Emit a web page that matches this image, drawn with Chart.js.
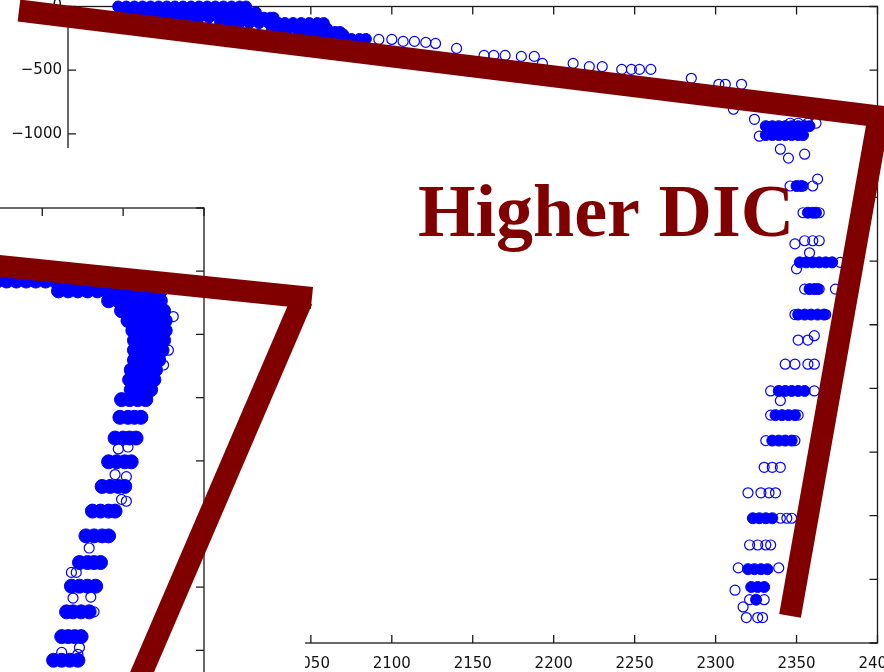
<!DOCTYPE html>
<html lang="en">
<head>
<meta charset="UTF-8">
<title>DIC profiles</title>
<script src="https://cdn.jsdelivr.net/npm/chart.js"></script>
<style>
  html, body { margin: 0; padding: 0; background: #fff; overflow: hidden; }
  #wrap { position: relative; width: 884px; height: 672px; overflow: hidden; background: #fff; }
  canvas { position: absolute; }
  #mainChart { left: 0; top: 0; }
  #insetChart { left: -370px; top: 148px; background: #fff; }
  #markChart { left: 0; top: 0; pointer-events: none; }
</style>
</head>
<body>
<div id="wrap">
  <canvas id="mainChart" width="884" height="672"></canvas>
  <canvas id="insetChart" width="675" height="700"></canvas>
  <canvas id="markChart" width="884" height="672"></canvas>
</div>
<script>
// main profile: axis ranges
const mainDicRange = [1900, 2400];
const mainDepthRange = [-5000, 0];
const dicStep = 50;
const depthStep = 500;

// main profile: dense sample clusters (depth level -> DIC values)
const mainCoreDepth = [0, -45, -88, -130, -172, -200, -219, -255, -940, -1010, -1410, -1620, -2010, -2220, -2420, -3020, -3210, -3410, -4020, -4420, -4560, -4660];
const mainCoreDic = [
  [1931, 1936, 1941, 1946, 1951, 1956, 1961, 1966, 1971, 1976, 1981, 1986, 1991, 1996, 2001, 2006, 2010],
  [1933, 1939, 1945, 1951, 1957, 1963, 1969, 1975, 1981, 1987, 1993, 1999, 2005, 2011, 2016],
  [1951, 1957, 1963, 1969, 1975, 1981, 1987, 1993, 1999, 2005, 2011, 2017, 2021, 2025, 2027],
  [1994, 2000, 2006, 2012, 2018, 2024, 2030, 2034, 2039, 2044, 2049, 2054, 2058],
  [2026, 2031, 2036, 2041, 2046, 2051, 2056, 2060],
  [2065, 2068],
  [2043, 2048, 2053, 2058, 2063, 2068, 2070],
  [2075, 2080, 2084],
  [2331, 2335, 2339, 2343, 2347, 2351, 2355, 2358],
  [2331, 2335, 2339, 2343, 2347, 2351, 2354],
  [2350, 2353],
  [2357, 2360, 2362],
  [2352, 2356, 2360, 2364, 2368, 2372],
  [2358, 2361, 2363],
  [2351, 2355, 2359, 2363, 2367],
  [2339, 2343, 2347, 2351, 2355],
  [2337, 2341, 2345, 2349],
  [2335, 2339, 2343, 2347],
  [2323, 2327, 2331, 2335],
  [2320, 2324, 2328, 2332],
  [2322, 2326, 2330],
  [2325]
];

// main profile: scattered single samples
const mainOpenDepth = [-259, -274, -282, -290, -329, -384, -392, -447, -472, -494, -564, -611, -807, -886, -917, -1019, -1121, -1160, -1191, -1356, -1410, -1620, -1840, -1865, -1935, -2010, -2061, -2220, -2420, -2586, -2620, -2810, -3020, -3096, -3210, -3410, -3620, -3820, -4020, -4230, -4410, -4585, -4660, -4717, -4800];
const mainOpenDic = [
  [2092, 2100], [2107, 2114], [2121], [2127], [2140], [2157, 2163, 2170], [2180, 2188],
  [2193, 2212], [2222, 2230], [2242, 2248, 2253, 2260], [2285], [2302, 2306, 2316],
  [2311], [2324], [2346, 2351, 2357, 2362], [2327], [2340], [2355], [2345], [2363],
  [2346, 2351, 2354, 2360], [2354, 2364], [2355, 2360, 2364], [2349], [2358], [2372, 2377],
  [2350], [2355, 2364, 2374], [2349, 2368], [2361], [2351, 2357], [2343, 2349, 2357, 2361],
  [2334, 2361], [2340], [2334, 2351], [2331, 2349], [2330, 2335, 2340], [2320, 2328, 2333, 2337],
  [2340, 2344, 2347], [2321, 2326, 2331, 2334], [2314, 2339], [2312], [2321, 2330], [2317],
  [2319, 2326, 2329]
];

// inset profile: axis ranges
const insetDicRange = [1950, 2300];
const insetDepthRange = [-5000, 0];

const insetCoreDepth = [-578, -656, -734, -813, -891, -969, -1047, -1125, -1203, -1281, -1359, -1438, -1516, -1656, -1820, -2008, -2203, -2398, -2594, -2805, -2992, -3195, -3391, -3578, -3766];
const insetCoreDic = [
  [2166, 2172, 2178, 2184, 2190, 2196, 2202, 2208, 2214, 2220, 2226, 2232, 2238, 2244, 2250, 2256, 2262, 2268, 2272],
  [2210, 2216, 2222, 2228, 2234, 2240, 2246, 2252, 2258, 2264, 2270, 2273],
  [2241, 2247, 2253, 2259, 2265, 2271, 2273],
  [2249, 2255, 2261, 2267, 2273, 2275],
  [2253, 2259, 2265, 2271, 2276],
  [2256, 2262, 2268, 2274, 2276],
  [2257, 2263, 2269, 2275],
  [2257, 2263, 2269, 2274],
  [2257, 2263, 2268, 2272],
  [2255, 2261, 2266, 2270],
  [2254, 2260, 2265, 2269],
  [2255, 2260, 2264, 2267],
  [2249, 2254, 2259, 2264],
  [2248, 2253, 2257, 2261],
  [2245, 2250, 2254, 2258],
  [2241, 2246, 2251, 2255],
  [2237, 2242, 2247, 2251],
  [2231, 2236, 2241, 2245],
  [2227, 2232, 2237, 2241],
  [2223, 2228, 2232, 2236],
  [2218, 2223, 2228, 2233],
  [2215, 2219, 2224, 2229],
  [2212, 2216, 2220, 2224],
  [2207, 2212, 2217, 2222],
  [2203, 2208, 2213, 2217]
];
const insetOpenDepth = [-859, -1125, -1242, -1891, -1906, -2109, -2125, -2305, -2320, -2690, -2883, -3078, -3086, -3195, -3477, -3516, -3531];
const insetOpenDic = [[2281], [2278], [2275], [2253], [2247], [2245], [2252], [2249], [2252], [2229], [2218, 2221], [2230], [2219], [2232], [2223], [2212], [2222]];

// hand-drawn strokes, in DIC / depth units of the main axes
const strokeTop = [[1869.8, -43], [2412.3, -893]];
const strokeRight = [[2399.4, -862], [2344.6, -4788]];
const strokeLowTop = [[1852, -2038], [2050.2, -2296]];
const strokeLowSide = [[2044.1, -2312], [1938.2, -5447]];
const noteText = 'Higher DIC';
const noteAt = [2115.5, -1810];

const BLUE = '#0000ff';
const MAROON = '#800000';

function toPoints(depths, groups) {
  return depths.flatMap((d, i) => groups[i].map(v => ({ x: v, y: d })));
}
function pairs(list) {
  return list.map(p => ({ x: p[0], y: p[1] }));
}
const minus = v => String(v).replace('-', '\u2212');

// box frame with inward ticks on all four sides
const frameTicks = {
  id: 'frameTicks',
  beforeDatasetsDraw(chart) {
    const { ctx, chartArea: a, scales: { x, y } } = chart;
    const len = 8;
    ctx.save();
    ctx.strokeStyle = '#1a1a1a';
    ctx.lineWidth = 1.3;
    ctx.strokeRect(a.left, a.top, a.right - a.left, a.bottom - a.top);
    ctx.beginPath();
    x.ticks.forEach(t => {
      const px = x.getPixelForValue(t.value);
      ctx.moveTo(px, a.bottom); ctx.lineTo(px, a.bottom - len);
      ctx.moveTo(px, a.top); ctx.lineTo(px, a.top + len);
    });
    y.ticks.forEach(t => {
      const py = y.getPixelForValue(t.value);
      ctx.moveTo(a.left, py); ctx.lineTo(a.left + len, py);
      ctx.moveTo(a.right, py); ctx.lineTo(a.right - len, py);
    });
    ctx.stroke();
    ctx.restore();
  }
};

const noteLabel = {
  id: 'noteLabel',
  afterDatasetsDraw(chart) {
    const { ctx, scales: { x, y } } = chart;
    ctx.save();
    ctx.font = 'bold 74px "Liberation Serif", "Times New Roman", serif';
    ctx.fillStyle = MAROON;
    ctx.textAlign = 'left';
    ctx.textBaseline = 'alphabetic';
    ctx.fillText(noteText, x.getPixelForValue(noteAt[0]), y.getPixelForValue(noteAt[1]));
    ctx.restore();
  }
};

const tickFont = { family: '"DejaVu Sans", sans-serif', size: 15 };
const baseOpts = {
  responsive: false,
  animation: false,
  events: [],
  plugins: { legend: { display: false }, tooltip: { enabled: false } }
};

const openStyle = { pointStyle: 'circle', pointRadius: 5, pointBorderWidth: 1.2, borderColor: BLUE, backgroundColor: 'rgba(0,0,0,0)', clip: false };

// main (large) profile
new Chart(document.getElementById('mainChart'), {
  type: 'scatter',
  data: {
    datasets: [
      Object.assign({ data: toPoints(mainOpenDepth, mainOpenDic) }, openStyle),
      { data: toPoints(mainCoreDepth, mainCoreDic), pointRadius: 5.5, pointBorderWidth: 1, borderColor: BLUE, backgroundColor: BLUE, clip: false }
    ]
  },
  options: Object.assign({}, baseOpts, {
    layout: { padding: { top: 5, right: 4, left: 0, bottom: 0 } },
    scales: {
      x: {
        type: 'linear', position: 'bottom', min: mainDicRange[0], max: mainDicRange[1],
        grid: { display: false, drawTicks: false }, border: { display: false },
        ticks: { stepSize: dicStep, autoSkip: false, maxRotation: 0, padding: 12, font: tickFont, color: '#111', callback: v => String(v) },
        afterFit(s) { s.height = 29; s.paddingLeft = 0; s.paddingRight = 0; }
      },
      y: {
        type: 'linear', position: 'left', min: mainDepthRange[0], max: mainDepthRange[1],
        grid: { display: false, drawTicks: false }, border: { display: false },
        ticks: { stepSize: depthStep, autoSkip: false, padding: 6, font: tickFont, color: '#111', callback: minus },
        afterFit(s) { s.width = 68; s.paddingTop = 0; s.paddingBottom = 0; }
      }
    }
  }),
  plugins: [frameTicks]
});

// inset profile (lower left)
new Chart(document.getElementById('insetChart'), {
  type: 'scatter',
  data: {
    datasets: [
      Object.assign({ data: toPoints(insetOpenDepth, insetOpenDic) }, openStyle),
      { data: toPoints(insetCoreDepth, insetCoreDic), pointRadius: 7, pointBorderWidth: 1, borderColor: BLUE, backgroundColor: BLUE, clip: false }
    ]
  },
  options: Object.assign({}, baseOpts, {
    layout: { padding: { top: 60, right: 101, left: 0, bottom: 0 } },
    scales: {
      x: {
        type: 'linear', min: insetDicRange[0], max: insetDicRange[1],
        grid: { display: false }, border: { display: false },
        ticks: { stepSize: dicStep, display: false }
      },
      y: {
        type: 'linear', min: insetDepthRange[0], max: insetDepthRange[1],
        grid: { display: false }, border: { display: false },
        ticks: { stepSize: depthStep, display: false }
      }
    }
  }),
  plugins: [frameTicks]
});

// marker strokes and note on top of both
const strokeStyle = { showLine: true, pointRadius: 0, borderColor: MAROON, borderWidth: 22, borderCapStyle: 'butt', borderJoinStyle: 'miter', tension: 0, clip: false };
new Chart(document.getElementById('markChart'), {
  type: 'scatter',
  data: {
    datasets: [strokeTop, strokeRight, strokeLowTop, strokeLowSide].map(s => Object.assign({ data: pairs(s) }, strokeStyle))
  },
  options: Object.assign({}, baseOpts, {
    layout: { padding: { top: 5, right: 4, left: 68, bottom: 29 } },
    scales: {
      x: { type: 'linear', display: false, min: mainDicRange[0], max: mainDicRange[1] },
      y: { type: 'linear', display: false, min: mainDepthRange[0], max: mainDepthRange[1] }
    }
  }),
  plugins: [noteLabel]
});
</script>
</body>
</html>
